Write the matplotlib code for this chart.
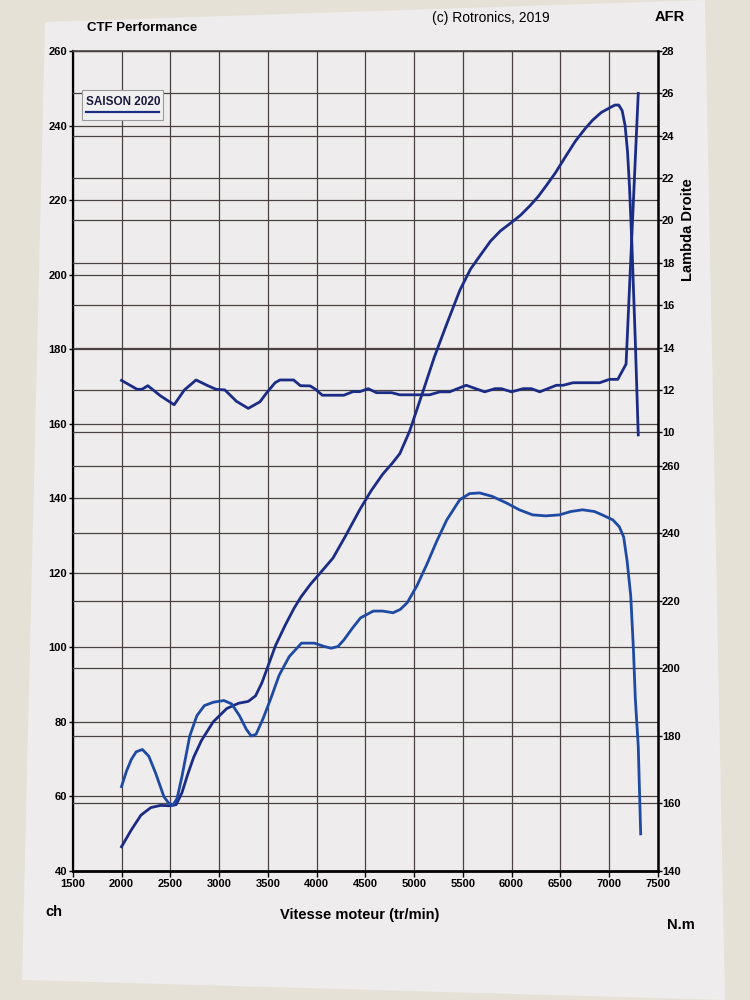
import numpy as np
import matplotlib
matplotlib.use('Agg')
import matplotlib.pyplot as plt
from matplotlib.patches import Polygon, Rectangle
from matplotlib.lines import Line2D

plt.rcParams['font.family'] = ['Liberation Sans Narrow', 'Liberation Sans', 'DejaVu Sans']

# ================================
# data

# power (ch)
rpm_ch = [2000, 2100, 2200, 2300, 2400, 2500, 2560, 2620, 2680, 2740, 2820, 2940,
          3080, 3200, 3300, 3375, 3440, 3510, 3580, 3680, 3770, 3840, 3940, 4040,
          4170, 4300, 4445, 4560, 4680, 4780, 4855, 4955, 5090, 5210, 5335, 5470,
          5580, 5675, 5785, 5885, 6000, 6095, 6190, 6275, 6360, 6450, 6550, 6655,
          6750, 6830, 6920, 7010, 7060, 7100, 7135, 7165, 7190, 7210, 7235, 7270, 7300]
ch = [46.5, 51, 55, 57, 57.6, 57.5, 57.8, 61, 66, 70.5, 75, 80,
      83.6, 85, 85.5, 87, 90.5, 95.5, 100.5, 106, 110.5, 113.5, 117, 120,
      124, 130, 137, 142, 146.5, 149.5, 152, 158, 168.5, 178, 186.7, 195.8,
      201.5, 205, 209, 211.7, 214, 216, 218.5, 221, 224, 227.3, 231.5, 235.8,
      239, 241.4, 243.5, 244.8, 245.5, 245.5, 244, 240, 233, 223.7, 208, 182, 157]

# torque (N.m)
rpm_nm = [2000, 2050, 2100, 2150, 2214, 2280, 2350, 2435, 2487, 2527, 2570, 2620,
          2700, 2773, 2850, 2942, 3050, 3130, 3210, 3280, 3330, 3380, 3450, 3530,
          3617, 3720, 3846, 3978, 4080, 4150, 4220, 4282, 4370, 4452, 4582, 4680,
          4785, 4860, 4931, 5030, 5134, 5230, 5336, 5470, 5570, 5673, 5800, 5950,
          6080, 6216, 6350, 6492, 6610, 6728, 6850, 6930, 7040, 7105, 7150, 7185,
          7223, 7250, 7270, 7300, 7325]
nm = [165, 169.5, 173, 175.3, 176, 174, 169, 162, 160, 159.5, 161.5, 168,
      180, 186, 189, 190, 190.5, 189.5, 186, 182, 180, 180.5, 185, 191,
      198, 203.5, 207.5, 207.5, 206.5, 206, 206.5, 208.5, 212, 215, 217, 217,
      216.5, 217.5, 219.5, 224.5, 231, 237.5, 244, 250, 251.8, 252, 251, 249,
      247, 245.5, 245.2, 245.5, 246.5, 247, 246.5, 245.5, 244, 242, 239, 232,
      221.5, 206, 191, 177, 151]

# AFR
rpm_afr = [2000, 2160, 2210, 2270, 2400, 2540, 2645, 2765, 2885, 2970, 3060, 3180,
           3300, 3420, 3490, 3575, 3625, 3765, 3835, 3935, 3990, 4060, 4280, 4375,
           4445, 4530, 4615, 4770, 4855, 5160, 5265, 5365, 5535, 5725, 5830, 5895,
           6000, 6120, 6205, 6290, 6460, 6530, 6630, 6905, 7005, 7090, 7175, 7300]
afr = [12.45, 12.03, 12.03, 12.2, 11.72, 11.3, 12.0, 12.47, 12.2, 12.03, 12.0, 11.46,
       11.13, 11.44, 11.87, 12.34, 12.47, 12.47, 12.2, 12.19, 12.03, 11.75, 11.75, 11.92,
       11.92, 12.06, 11.87, 11.87, 11.77, 11.77, 11.91, 11.91, 12.22, 11.91, 12.06, 12.06,
       11.91, 12.06, 12.06, 11.91, 12.22, 12.22, 12.34, 12.34, 12.5, 12.5, 13.22, 26.0]

rpm_ticks = np.arange(1500, 7501, 500)
ch_ticks = np.arange(40, 261, 20)
afr_ticks = np.arange(10, 29, 2)
nm_ticks = np.arange(140, 261, 20)

# ================================
# figure / paper

fig = plt.figure(figsize=(7.5, 10), dpi=100, facecolor='#e5e1d7')
paper = Polygon([(45/750, 1-22/1000), (705/750, 1.0), (725/750, 0.0), (22/750, 1-980/1000)],
                closed=True, transform=fig.transFigure, facecolor='#eeecec', edgecolor='none', zorder=-5)
fig.patches.append(paper)

ax = fig.add_axes([0.097, 0.129, 0.78, 0.82])
ax.set_facecolor('none')
ax2 = ax.twinx()  # AFR, upper part
ax3 = ax.twinx()  # N.m, lower part

ax.set_xlim(1500, 7500)
ax.set_ylim(40, 260)
# AFR 10..28 over top 46.5 % of the height
ax2.set_ylim(28 - 18 / 0.465, 28)
# N.m 140..260 over bottom 49.4 % of the height
ax3.set_ylim(140, 140 + 120 / 0.494)

gcol = '#4a4242'
for a in (ax, ax2, ax3):
    a.set_facecolor('none')
    for s in a.spines.values():
        s.set_visible(False)

ax.set_xticks(rpm_ticks)
ax.set_yticks(ch_ticks)
ax2.set_yticks(afr_ticks)
ax3.set_yticks(nm_ticks)

ax.grid(True, color=gcol, lw=0.9)
ax2.grid(True, axis='y', color=gcol, lw=0.9)
ax3.grid(True, axis='y', color=gcol, lw=0.9)

ax.tick_params(axis='x', length=4, width=1, colors='black', pad=2)
ax.tick_params(axis='y', length=3, width=1, colors='black', pad=1)
ax2.tick_params(axis='y', length=3, width=1, pad=0)
ax3.tick_params(axis='y', length=3, width=1, pad=0)
for lab in ax.get_xticklabels() + ax.get_yticklabels() + ax2.get_yticklabels() + ax3.get_yticklabels():
    lab.set_fontsize(8)
    lab.set_fontweight('bold')

ax.spines['left'].set_visible(True)
ax.spines['left'].set_linewidth(1.6)
ax.spines['bottom'].set_visible(True)
ax.spines['bottom'].set_linewidth(2)
ax.spines['top'].set_visible(True)
ax.spines['top'].set_linewidth(1.2)
ax.spines['top'].set_color(gcol)
ax3.spines['right'].set_visible(True)
ax3.spines['right'].set_linewidth(1.8)

# curves, all drawn in the last axes so they sit over every grid
lc = '#1b2c86'
ax3.plot(rpm_ch, ch, color=lc, lw=2, transform=ax.transData, solid_joinstyle='round')
ax3.plot(rpm_nm, nm, color='#1f4aa3', lw=2, solid_joinstyle='round')
ax3.plot(rpm_afr, afr, color=lc, lw=2, transform=ax2.transData, solid_joinstyle='round')

# legend box
ax3.add_patch(Rectangle((0.015, 0.916), 0.139, 0.036, transform=ax.transAxes,
                        facecolor='#f2f1f1', edgecolor='#9a9a9a', lw=0.8, zorder=5))
ax3.text(0.022, 0.938, 'SAISON 2020', transform=ax.transAxes, fontsize=8.5,
         fontweight='bold', color='#1a1a40', va='center', ha='left', zorder=6)
ax3.add_line(Line2D([0.022, 0.148], [0.925, 0.925], transform=ax.transAxes,
                    color=lc, lw=1.6, zorder=6))

# texts
fig.text(0.116, 0.972, 'CTF Performance', fontsize=9.5, fontweight='bold', va='center')
fig.text(0.576, 0.982, '(c) Rotronics, 2019', fontsize=10, va='center')
fig.text(0.873, 0.983, 'AFR', fontsize=10.5, fontweight='bold', va='center')
fig.text(0.917, 0.77, 'Lambda Droite', fontsize=10.5, fontweight='bold', rotation=90,
         va='center', ha='center')
fig.text(0.06, 0.088, 'ch', fontsize=10.5, fontweight='bold', va='center')
fig.text(0.48, 0.085, 'Vitesse moteur (tr/min)', fontsize=10.5, fontweight='bold',
         va='center', ha='center')
fig.text(0.89, 0.075, 'N.m', fontsize=10.5, fontweight='bold', va='center')

fig.savefig('out.png', dpi=100, facecolor=fig.get_facecolor())
